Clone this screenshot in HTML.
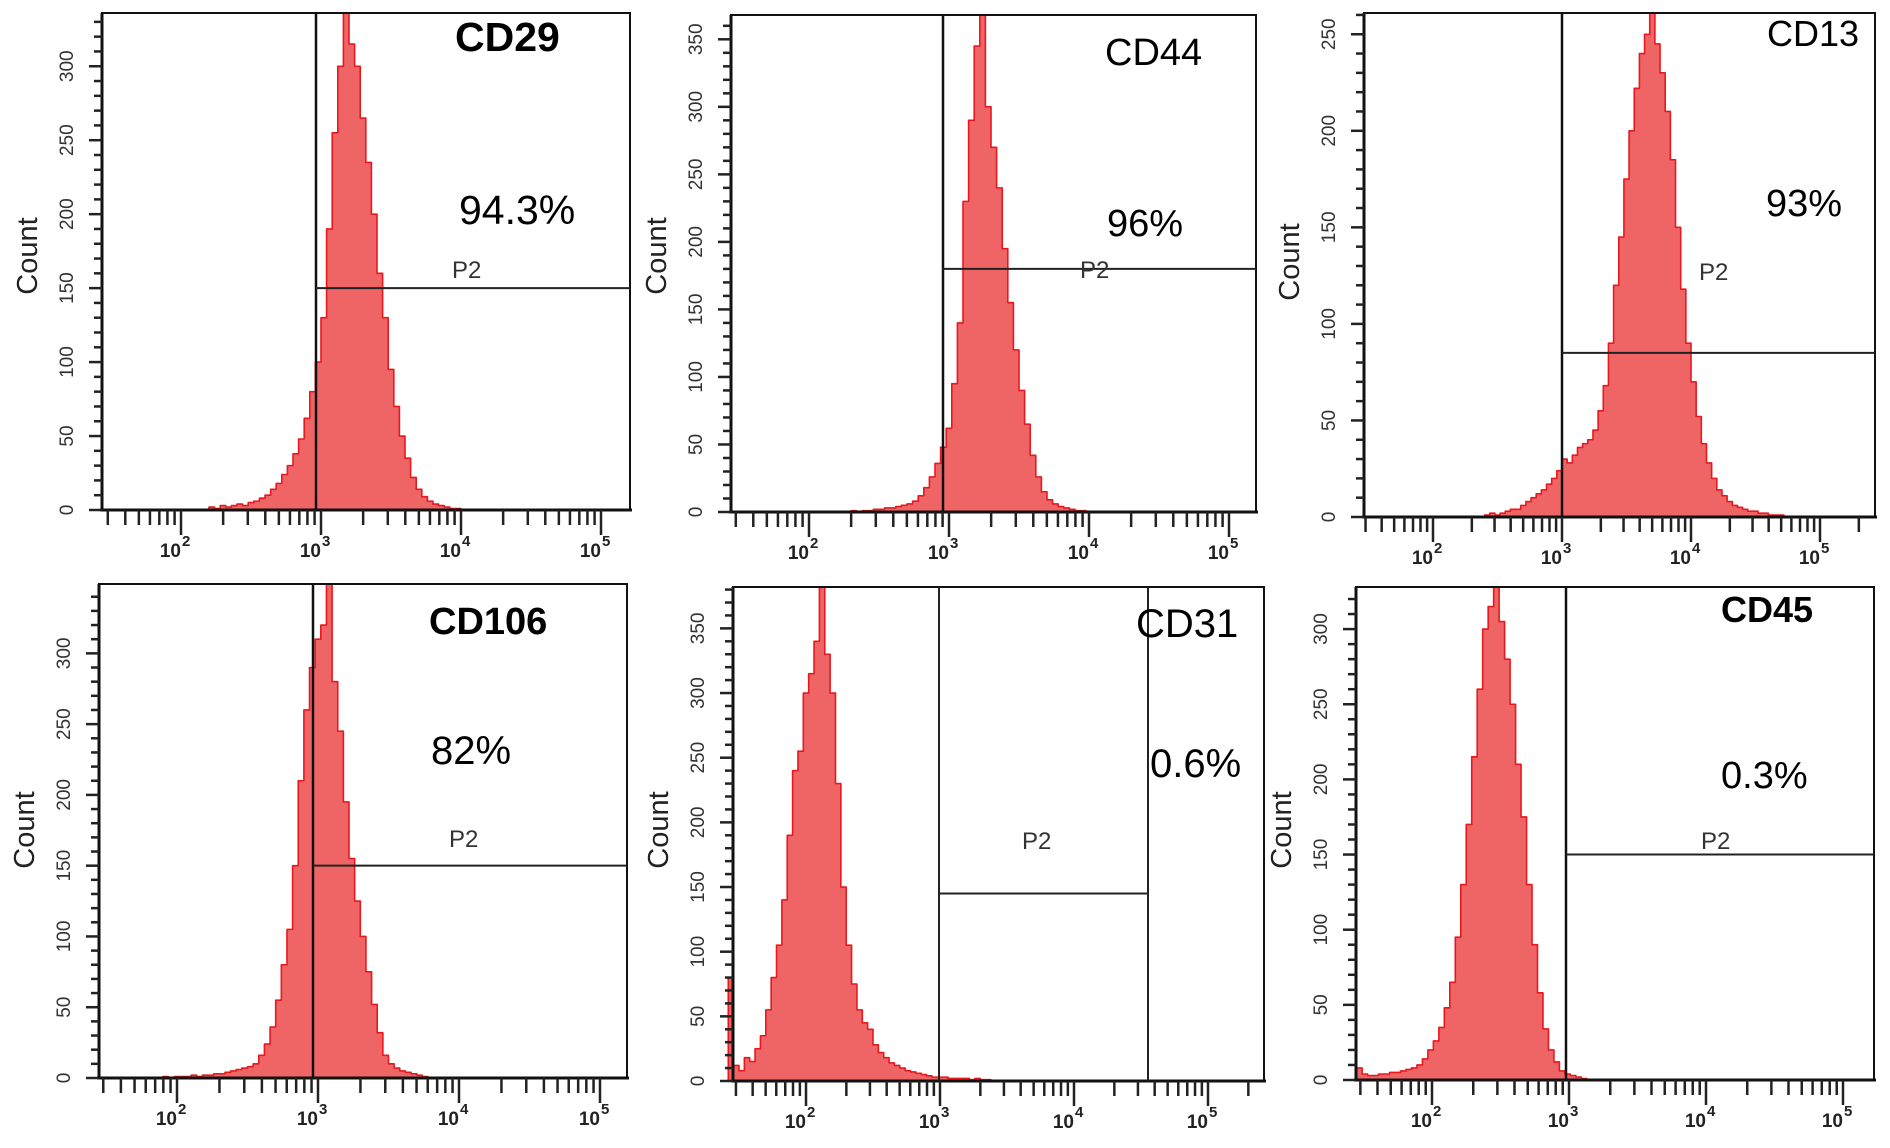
<!DOCTYPE html>
<html><head><meta charset="utf-8"><style>
html,body{margin:0;padding:0;background:#fff;}
svg{display:block;font-family:"Liberation Sans",Arial,sans-serif;}
</style></head><body>
<svg id="fig" width="1890" height="1148" viewBox="0 0 1890 1148" xmlns="http://www.w3.org/2000/svg"></svg>
<script>
// ---- data (log10 bin start, bin step, counts) ----
const binStep = 0.04;
const cd29Start = 2.2;
const cd29Counts = [2,1,3,2,3,4,3,5,6,8,10,14,18,24,30,38,48,62,80,100,130,190,255,300,336,315,300,265,235,200,160,130,95,70,50,35,22,14,9,6,4,3,2,1,1,0];
const cd44Start = 2.3;
const cd44Counts = [1,0,1,1,2,2,3,3,4,5,6,8,12,18,26,36,48,62,95,140,230,290,345,368,300,270,240,195,155,120,90,65,42,26,15,9,6,4,3,2,1,1,0];
const cd13Start = 2.4;
const cd13Counts = [1,2,1,2,3,4,4,6,8,10,12,14,17,20,24,30,28,32,36,38,40,45,55,68,90,120,145,175,200,222,240,250,261,245,230,210,185,150,118,90,70,52,38,28,20,14,11,8,6,5,4,3,3,2,2,1,1,1,0];
const cd106Start = 1.9;
const cd106Counts = [1,0,1,1,1,2,1,2,2,3,3,4,5,6,7,8,10,16,24,36,55,80,105,150,210,260,290,310,320,349,280,245,195,155,125,100,75,52,32,16,10,7,5,4,3,2,1,0];
const cd31Start = 1.42;
const cd31Counts = [80,12,8,18,15,25,35,55,80,105,140,190,240,255,300,315,340,382,330,300,230,150,105,75,55,45,40,28,22,18,14,12,10,8,7,6,5,4,3,3,3,2,2,2,2,1,2,1,1,0];
const cd45Start = 1.45;
const cd45Counts = [8,4,3,3,4,4,5,5,6,7,8,10,14,20,26,35,48,65,95,130,170,215,260,300,315,328,305,280,250,210,175,130,90,58,34,20,12,6,4,3,2,1,0];
const markerNames = ["CD29","CD44","CD13","CD106","CD31","CD45"];
const positivePct = ["94.3%","96%","93%","82%","0.6%","0.3%"];
const yMaxima = [336,368,261,349,382,328];
const yTickLabels = [["0","50","100","150","200","250","300"],["0","50","100","150","200","250","300","350"],["0","50","100","150","200","250"],["0","50","100","150","200","250","300"],["0","50","100","150","200","250","300","350"],["0","50","100","150","200","250","300"]];
const decadeLabels = ["2","3","4","5"];
const gateCounts = [150,180,85,150,145,150];

const NS="http://www.w3.org/2000/svg";
const svg=document.getElementById('fig');
function el(tag,attrs,parent){const e=document.createElementNS(NS,tag);for(const k in attrs)e.setAttribute(k,attrs[k]);(parent||svg).appendChild(e);return e;}

// layout (pixel geometry)
const panels=[
 {L:102,R:630,T:13,B:510,x3:321,dec:140,start:cd29Start,counts:cd29Counts,nameX:455,nameY:51,bold:true,nameSize:41,pctX:459,pctY:224,pctSize:41,p2X:452,p2Y:278,gx:316,twoGate:false,cy:256},
 {L:731,R:1256,T:15,B:512,x3:949,dec:140,start:cd44Start,counts:cd44Counts,nameX:1105,nameY:65,bold:false,nameSize:38,pctX:1107,pctY:236,pctSize:38,p2X:1080,p2Y:278,gx:943,twoGate:false,cy:256},
 {L:1364,R:1875,T:13,B:517,x3:1562,dec:129,start:cd13Start,counts:cd13Counts,nameX:1767,nameY:46,bold:false,nameSize:36,pctX:1766,pctY:216,pctSize:38,p2X:1699,p2Y:280,gx:1562,twoGate:false,cy:262},
 {L:99,R:627,T:584,B:1078,x3:318,dec:141,start:cd106Start,counts:cd106Counts,nameX:429,nameY:634,bold:true,nameSize:38,pctX:431,pctY:764,pctSize:40,p2X:449,p2Y:847,gx:313,twoGate:false,cy:830},
 {L:733,R:1264,T:587,B:1081,x3:940,dec:134,start:cd31Start,counts:cd31Counts,nameX:1136,nameY:637,bold:false,nameSize:40,pctX:1150,pctY:777,pctSize:40,p2X:1022,p2Y:849,gx:939,gx2:1148,twoGate:true,cy:830},
 {L:1356,R:1874,T:587,B:1080,x3:1569,dec:137,start:cd45Start,counts:cd45Counts,nameX:1721,nameY:622,bold:true,nameSize:36,pctX:1721,pctY:788,pctSize:38,p2X:1701,p2Y:849,gx:1566,twoGate:false,cy:830}
];

panels.forEach((p,i)=>{
 const g=el('g',{});
 
 
 const xs=v=>p.x3+(v-3)*p.dec;            // log10 value -> px
 const ys=c=>p.B-c/yMaxima[i]*(p.B-p.T);  // count -> px
 // histogram
 let d='M'+xs(p.start)+','+p.B;
 p.counts.forEach((c,k)=>{const x0=xs(p.start+k*binStep),x1=xs(p.start+(k+1)*binStep);const y=ys(c);d+=' L'+x0+','+y+' L'+x1+','+y;});
 d+=' L'+xs(p.start+p.counts.length*binStep)+','+p.B+' Z';
 const h=el('path',{d:d,fill:'#ef6566',stroke:'#e8181f','stroke-width':1.6,'stroke-linejoin':'round'},g);
 
 
 // box
 const box=el('rect',{x:p.L,y:p.T,width:p.R-p.L,height:p.B-p.T,fill:'none',stroke:'#111','stroke-width':2},g);
 
 
 el('line',{x1:p.L-2,x2:p.R+2,y1:p.B,y2:p.B,stroke:'#111','stroke-width':3},g);
 el('line',{x1:p.L,x2:p.L,y1:p.T,y2:p.B,stroke:'#111','stroke-width':3},g);
 // gates
 const gy=ys(gateCounts[i]);
 if(p.twoGate){
  const gl1=el('line',{x1:p.gx,x2:p.gx,y1:p.T,y2:p.B,stroke:'#222','stroke-width':2},g);
  
  
  const gl2=el('line',{x1:p.gx2,x2:p.gx2,y1:p.T,y2:p.B,stroke:'#222','stroke-width':2},g);
  
  
  const gh=el('line',{x1:p.gx,x2:p.gx2,y1:gy,y2:gy,stroke:'#222','stroke-width':2},g);
  
  
 } else {
  const gl=el('line',{x1:p.gx,x2:p.gx,y1:p.T,y2:p.B,stroke:'#111','stroke-width':2.5},g);
  
  
  const gh=el('line',{x1:p.gx,x2:p.R,y1:gy,y2:gy,stroke:'#222','stroke-width':2},g);
  
  
 }
 // y ticks
 for(let c=0;c<=yMaxima[i];c+=10){
  const y=ys(c);const major=c%50===0;
  el('line',{x1:p.L-(major?13:8),x2:p.L,y1:y,y2:y,stroke:'#222','stroke-width':2.5},g);
 }
 yTickLabels[i].forEach(lbl=>{
  const y=ys(+lbl);
  const t=el('text',{x:0,y:0,'font-size':19,fill:'#333','text-anchor':'middle',transform:'translate('+(p.L-29)+','+y+') rotate(-90)'},g);
  t.textContent=lbl;
  
  
 });
 // x ticks
 const lo=(p.L-p.x3)/p.dec+3, hi=(p.R-p.x3)/p.dec+3;
 for(let e=1;e<=5;e++){for(let m=1;m<=9;m++){const v=e+Math.log10(m);if(v<lo+0.01||v>hi)continue;const x=xs(v);
  el('line',{x1:x,x2:x,y1:p.B,y2:p.B+(m===1?25:15),stroke:'#222','stroke-width':2.5},g);}}
 decadeLabels.forEach(dl=>{
  const x=xs(+dl);
  const t=el('text',{x:x,y:p.B+47,'font-size':19,'font-weight':'bold',fill:'#222','text-anchor':'end'},g);
  t.textContent='10';
  
  
  const s=el('text',{x:x+1,y:p.B+36,'font-size':15,'font-weight':'bold',fill:'#222'},g);
  s.textContent=dl;
  
  
 });
 // count label
 const ct=el('text',{x:0,y:0,'font-size':29,fill:'#222','text-anchor':'middle',transform:'translate('+(p.L-65)+','+p.cy+') rotate(-90)'},g);
 ct.textContent='Count';
 
 
 // annotations
 const nm=el('text',{x:p.nameX,y:p.nameY,'font-size':p.nameSize,'font-weight':p.bold?'bold':'normal',fill:'#000'},g);
 nm.textContent=markerNames[i];
 
 
 const pc=el('text',{x:p.pctX,y:p.pctY,'font-size':p.pctSize,fill:'#000'},g);
 pc.textContent=positivePct[i];
 
 
 const p2=el('text',{x:p.p2X,y:p.p2Y,'font-size':24,fill:'#333'},g);
 p2.textContent='P2';
 
 
});
</script>
</body></html>
